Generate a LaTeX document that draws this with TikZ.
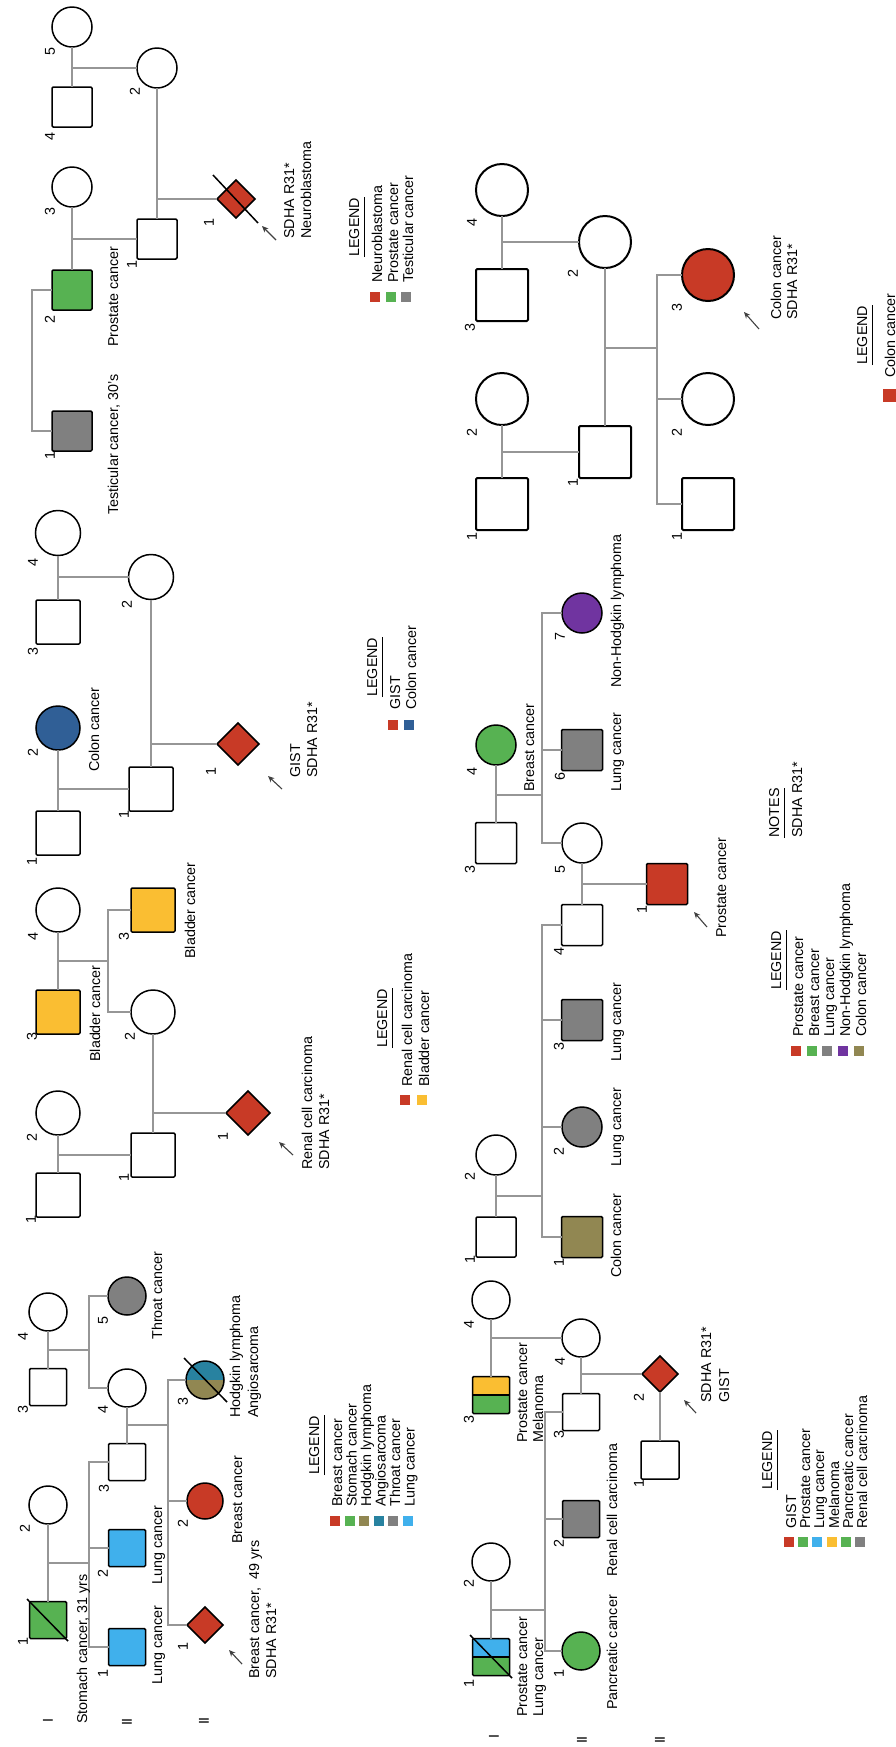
\documentclass[tikz,border=0pt]{standalone}
\usepackage{fontspec}
\setmainfont{Liberation Sans}
\usetikzlibrary{shapes.geometric,arrows.meta}
\definecolor{cred}{RGB}{200,58,38}
\definecolor{cgreen}{RGB}{87,178,82}
\definecolor{cgray}{RGB}{128,128,128}
\definecolor{cblue}{RGB}{64,176,236}
\definecolor{cyel}{RGB}{250,190,50}
\definecolor{colive}{RGB}{145,135,82}
\definecolor{cteal}{RGB}{40,130,160}
\definecolor{cdblue}{RGB}{48,95,150}
\definecolor{cpurp}{RGB}{112,52,160}
\definecolor{lncol}{RGB}{150,150,150}
\newcommand\pedfont{\fontsize{7.15}{8.6}\selectfont}
\begin{document}
\begin{tikzpicture}[x=0.5pt,y=-0.5pt,
  ln/.style={draw=lncol, line width=0.75pt},
  ind/.style={draw=black, line width=0.75pt, inner sep=0pt, outer sep=0pt},
  sq/.style={ind, rectangle, rounded corners=0.6pt, minimum size=#1},
  ci/.style={ind, circle, minimum size=#1},
  di/.style={ind, diamond, aspect=1, minimum size=#1},
  tx/.style={rotate=90, anchor=west, inner sep=0pt, text height=0.72em, text depth=0pt, font=\pedfont},
  nm/.style={rotate=90, inner sep=0pt, font=\pedfont},
  lg/.style={rectangle, inner sep=0pt, minimum size=5pt},
  ul/.style={draw=black, line width=0.7pt},
  pa/.style={draw=black!75, line width=0.55pt, -{Stealth[length=3.2pt,width=2.8pt]}},
  dc/.style={draw=black, line width=0.75pt},
]
\useasboundingbox (0,0) rectangle (895,1747);

% ================= Pedigree A (neuroblastoma) =================
\node[ci=20pt] (A5) at (72,27) {};
\node[sq=20pt] (A4) at (72,107) {};
\node[ci=20pt] (A2) at (157,68) {};
\node[ci=20pt] (A3) at (72,187) {};
\node[sq=20pt] (A1) at (157,239) {};
\node[sq=20pt, fill=cgreen] (AP) at (72,290) {};
\node[sq=20pt, fill=cgray] (AT) at (72,431) {};
\node[di=19pt, fill=cred] (AD) at (236,199) {};
\draw[ln] (A5) -- (A4);
\draw[ln] (A5 |- A2) -- (A2);
\draw[ln] (A2) -- (A1);
\draw[ln] (A2 |- AD) -- (AD);
\draw[ln] (A3) -- (AP);
\draw[ln] (A3 |- A1) -- (A1);
\coordinate (Asib) at (32,290);
\draw[ln] (AP) -- (Asib) |- (AT);
\coordinate (Ad1) at (213,175); \coordinate (Ad2) at (258,223);
\draw[dc] (Ad1) -- (Ad2);
\coordinate (Aat) at (276,240); \coordinate (Aah) at (262,226);
\draw[pa] (Aat) -- (Aah);
\node[nm] at (50,52) {5};
\node[nm] at (50,137) {4};
\node[nm] at (135,92) {2};
\node[nm] at (50,212) {3};
\node[nm] at (132,265) {1};
\node[nm] at (209,223) {1};
\node[nm] at (50,320) {2};
\node[nm] at (50,456) {1};
\node[tx] at (111,515) {Testicular cancer, 30's};
\node[tx] at (111,347) {Prostate cancer};
\node[tx] at (287,239) {SDHA R31*};
\node[tx] at (304,239) {Neuroblastoma};
\node[tx] (AL) at (352,257) {LEGEND};
\draw[ul] ([xshift=2.5pt]AL.south west) -- ([xshift=2.5pt]AL.south east);
\node[tx] at (375,283) {Neuroblastoma};
\node[tx] at (391,283) {Prostate cancer};
\node[tx] at (406,283) {Testicular cancer};
\node[lg, fill=cred] (Alg1) at (375,297) {};
\node[lg, fill=cgreen] (Alg2) at (391,297) {};
\node[lg, fill=cgray] (Alg3) at (406,297) {};

% ================= Pedigree B (colon) =================
\begin{scope}[ind/.append style={line width=1pt}]
\node[ci=26pt] (B4) at (502,190) {};
\node[sq=26pt] (B3) at (502,295) {};
\node[ci=26pt] (B2) at (605,242) {};
\node[ci=26pt] (BI2) at (502,399) {};
\node[sq=26pt] (BI1) at (502,504) {};
\node[sq=26pt] (B1) at (605,452) {};
\node[ci=26pt, fill=cred] (B3c) at (708,275) {};
\node[ci=26pt] (B2c) at (708,399) {};
\node[sq=26pt] (B1c) at (708,504) {};
\end{scope}
\draw[ln] (B4) -- (B3);
\draw[ln] (B4 |- B2) -- (B2);
\draw[ln] (B2) -- (B1);
\draw[ln] (BI2) -- (BI1);
\draw[ln] (BI2 |- B1) -- (B1);
\coordinate (Bs) at (657,348);
\draw[ln] (B2 |- Bs) -- (Bs);
\draw[ln] (B3c) -- (Bs |- B3c) -- (Bs |- B1c) -- (B1c);
\draw[ln] (Bs |- B2c) -- (B2c);
\coordinate (Bat) at (759,329); \coordinate (Bah) at (744,312);
\draw[pa] (Bat) -- (Bah);
\node[nm] at (472,223) {4};
\node[nm] at (470,328) {3};
\node[nm] at (573,274) {2};
\node[nm] at (472,433) {2};
\node[nm] at (472,537) {1};
\node[nm] at (573,483) {1};
\node[nm] at (677,308) {3};
\node[nm] at (677,433) {2};
\node[nm] at (677,537) {1};
\node[tx] at (774,320) {Colon cancer};
\node[tx] at (790,320) {SDHA R31*};
\node[tx] (BL) at (860,365) {LEGEND};
\draw[ul] ([xshift=2.5pt]BL.south west) -- ([xshift=2.5pt]BL.south east);
\node[tx] at (888,378) {Colon cancer};
\node[lg, fill=cred, minimum size=6.5pt] (Blg1) at (889,395) {};

% ================= Pedigree C (GIST / colon) =================
\node[ci=22.5pt] (C4) at (58,533) {};
\node[sq=22pt] (C3) at (58,622) {};
\node[ci=22.5pt] (C2) at (151,577) {};
\node[ci=22pt, fill=cdblue] (CI2) at (58,728) {};
\node[sq=22pt] (CI1) at (58,833) {};
\node[sq=22pt] (C1) at (151,789) {};
\node[di=21pt, fill=cred] (CD) at (238,744) {};
\draw[ln] (C4) -- (C3);
\draw[ln] (C4 |- C2) -- (C2);
\draw[ln] (C2) -- (C1);
\draw[ln] (C2 |- CD) -- (CD);
\draw[ln] (CI2) -- (CI1);
\draw[ln] (CI2 |- C1) -- (C1);
\coordinate (Cat) at (282,789); \coordinate (Cah) at (268,776);
\draw[pa] (Cat) -- (Cah);
\node[nm] at (33,563) {4};
\node[nm] at (127,605) {2};
\node[nm] at (33,652) {3};
\node[nm] at (33,753) {2};
\node[nm] at (32,862) {1};
\node[nm] at (124,815) {1};
\node[nm] at (211,772) {1};
\node[tx] at (92,772) {Colon cancer};
\node[tx] at (293,778) {GIST};
\node[tx] at (310,778) {SDHA R31*};
\node[tx] (CL) at (370,697) {LEGEND};
\draw[ul] ([xshift=2.5pt]CL.south west) -- ([xshift=2.5pt]CL.south east);
\node[tx] at (393,710) {GIST};
\node[tx] at (409,710) {Colon cancer};
\node[lg, fill=cred] (Clg1) at (393,725) {};
\node[lg, fill=cdblue] (Clg2) at (409,725) {};

% ================= Pedigree D (renal / bladder) =================
\node[ci=22pt] (D4) at (58,910) {};
\node[sq=22pt, fill=cyel] (D3) at (58,1012) {};
\node[sq=22pt, fill=cyel] (D3r) at (153,910) {};
\node[ci=22pt] (D2) at (153,1012) {};
\node[ci=22pt] (DI2) at (58,1113) {};
\node[sq=22pt] (DI1) at (58,1195) {};
\node[sq=22pt] (D1) at (153,1155) {};
\node[di=22pt, fill=cred] (DD) at (248,1113) {};
\draw[ln] (D4) -- (D3);
\coordinate (Ds) at (108,961);
\draw[ln] (D4 |- Ds) -- (Ds);
\draw[ln] (D3r) -- (Ds |- D3r) -- (Ds |- D2) -- (D2);
\draw[ln] (D2) -- (D1);
\draw[ln] (D2 |- DD) -- (DD);
\draw[ln] (DI2) -- (DI1);
\draw[ln] (DI2 |- D1) -- (D1);
\coordinate (Dat) at (293,1155); \coordinate (Dah) at (279,1142);
\draw[pa] (Dat) -- (Dah);
\node[nm] at (33,937) {4};
\node[nm] at (124,937) {3};
\node[nm] at (32,1037) {3};
\node[nm] at (130,1037) {2};
\node[nm] at (32,1138) {2};
\node[nm] at (223,1137) {1};
\node[nm] at (124,1178) {1};
\node[nm] at (31,1220) {1};
\node[tx] at (188,959) {Bladder cancer};
\node[tx] at (93,1062) {Bladder cancer};
\node[tx] at (305,1170) {Renal cell carcinoma};
\node[tx] at (322,1170) {SDHA R31*};
\node[tx] (DL) at (380,1048) {LEGEND};
\draw[ul] ([xshift=2.5pt]DL.south west) -- ([xshift=2.5pt]DL.south east);
\node[tx] at (405,1087) {Renal cell carcinoma};
\node[tx] at (422,1087) {Bladder cancer};
\node[lg, fill=cred] (Dlg1) at (405,1100) {};
\node[lg, fill=cyel] (Dlg2) at (422,1100) {};

% ================= Pedigree E (breast) =================
\node[ci=19pt] (E4) at (48,1312) {};
\node[sq=18.5pt] (E3) at (48,1387) {};
\node[ci=19pt, fill=cgray] (E5) at (127,1296) {};
\node[ci=19pt] (E4b) at (127,1388) {};
\node[sq=18.5pt] (E3b) at (127,1462) {};
\node[ci=19pt, draw=none] (E3c) at (205,1380) {};
\fill[cteal] (E3c.west) arc[start angle=180, end angle=0, radius=9.5pt] -- cycle;
\fill[colive] (E3c.west) arc[start angle=180, end angle=360, radius=9.5pt] -- cycle;
\draw[dc] (E3c.center) circle[radius=9.5pt];
\node[ci=18pt, fill=cred] (E2c) at (205,1501) {};
\node[di=18pt, fill=cred] (ED) at (205,1625) {};
\node[ci=19pt] (E2) at (48,1505) {};
\node[sq=18.5pt, fill=cgreen] (E1) at (48,1620) {};
\node[sq=18.5pt, fill=cblue] (E2b) at (127,1548) {};
\node[sq=18.5pt, fill=cblue] (E1b) at (127,1647) {};
\draw[ln] (E4) -- (E3);
\coordinate (Es1) at (89,1350);
\draw[ln] (E4 |- Es1) -- (Es1);
\draw[ln] (E5) -- (Es1 |- E5) -- (Es1 |- E4b) -- (E4b);
\draw[ln] (E4b) -- (E3b);
\coordinate (Es2) at (168,1425);
\draw[ln] (E4b |- Es2) -- (Es2);
\draw[ln] (E3c) -- (Es2 |- E3c) -- (Es2 |- ED) -- (ED);
\draw[ln] (Es2 |- E2c) -- (E2c);
\draw[ln] (E2) -- (E1);
\coordinate (Es3) at (89,1563);
\draw[ln] (E2 |- Es3) -- (Es3);
\draw[ln] (E3b) -- (Es3 |- E3b) -- (Es3 |- E1b) -- (E1b);
\draw[ln] (Es3 |- E2b) -- (E2b);
\coordinate (Ed1) at (27,1599); \coordinate (Ed2) at (68,1641);
\draw[dc] (Ed1) -- (Ed2);
\coordinate (Ed3) at (184,1358); \coordinate (Ed4) at (227,1402);
\draw[dc] (Ed3) -- (Ed4);
\coordinate (Eat) at (242,1664); \coordinate (Eah) at (229,1650);
\draw[pa] (Eat) -- (Eah);
\node[nm] at (23,1337) {4};
\node[nm] at (23,1410) {3};
\node[nm] at (103,1321) {5};
\node[nm] at (103,1410) {4};
\node[nm] at (183,1402) {3};
\node[nm] at (25,1529) {2};
\node[nm] at (23,1642) {1};
\node[nm] at (104,1489) {3};
\node[nm] at (103,1574) {2};
\node[nm] at (103,1674) {1};
\node[nm] at (183,1524) {2};
\node[nm] at (183,1647) {1};
\node[nm] at (48,1720) {I};
\node[nm] at (127,1722) {II};
\node[nm] at (204,1721) {II};
\node[tx] at (155,1340) {Throat cancer};
\node[tx] at (233,1418) {Hodgkin lymphoma};
\node[tx] at (251,1418) {Angiosarcoma};
\node[tx] at (235,1544) {Breast cancer};
\node[tx] at (252,1679) {Breast cancer,\ \ 49 yrs};
\node[tx] at (269,1679) {SDHA R31*};
\node[tx] at (80,1724) {Stomach cancer, 31 yrs};
\node[tx] at (155,1585) {Lung cancer};
\node[tx] at (155,1685) {Lung cancer};
\node[tx] (EL) at (312,1475) {LEGEND};
\draw[ul] ([xshift=2.5pt]EL.south west) -- ([xshift=2.5pt]EL.south east);
\node[tx] at (335,1507) {Breast cancer};
\node[tx] at (349.5,1507) {Stomach cancer};
\node[tx] at (364,1507) {Hodgkin lymphoma};
\node[tx] at (378.5,1507) {Angiosarcoma};
\node[tx] at (393,1507) {Throat cancer};
\node[tx] at (407.5,1507) {Lung cancer};
\node[lg, fill=cred] (Elg1) at (335,1521) {};
\node[lg, fill=cgreen] (Elg2) at (349.5,1521) {};
\node[lg, fill=colive] (Elg3) at (364,1521) {};
\node[lg, fill=cteal] (Elg4) at (378.5,1521) {};
\node[lg, fill=cgray] (Elg5) at (393,1521) {};
\node[lg, fill=cblue] (Elg6) at (407.5,1521) {};

% ================= Pedigree F (prostate / NHL) =================
\node[ci=20pt, fill=cgreen] (F4c) at (496,745) {};
\node[sq=20.5pt] (F3s) at (496,843) {};
\node[ci=20pt, fill=cpurp] (F7) at (582,613) {};
\node[sq=20.5pt, fill=cgray] (F6) at (582,750) {};
\node[ci=20pt] (F5) at (582,843) {};
\node[sq=20.5pt] (F4) at (582,925) {};
\node[sq=20.5pt, fill=cred] (F1r) at (667,884) {};
\node[sq=20.5pt, fill=cgray] (F3) at (582,1020) {};
\node[ci=20pt, fill=cgray] (F2) at (582,1127) {};
\node[ci=20pt] (FI2) at (496,1155) {};
\node[sq=20pt] (FI1) at (496,1237) {};
\node[sq=20.5pt, fill=colive] (F1) at (582,1237) {};
\draw[ln] (F4c) -- (F3s);
\coordinate (Fs1) at (542,795);
\draw[ln] (F4c |- Fs1) -- (Fs1);
\draw[ln] (F7) -- (Fs1 |- F7) -- (Fs1 |- F5) -- (F5);
\draw[ln] (Fs1 |- F6) -- (F6);
\draw[ln] (F5) -- (F4);
\draw[ln] (F5 |- F1r) -- (F1r);
\draw[ln] (FI2) -- (FI1);
\coordinate (Fs2) at (542,1196);
\draw[ln] (FI2 |- Fs2) -- (Fs2);
\draw[ln] (F4) -- (Fs2 |- F4) -- (Fs2 |- F1) -- (F1);
\draw[ln] (Fs2 |- F3) -- (F3);
\draw[ln] (Fs2 |- F2) -- (F2);
\coordinate (Fat) at (707,927); \coordinate (Fah) at (694,912);
\draw[pa] (Fat) -- (Fah);
\node[nm] at (560,637) {7};
\node[nm] at (472,772) {4};
\node[nm] at (560,777) {6};
\node[nm] at (470,870) {3};
\node[nm] at (560,870) {5};
\node[nm] at (642,910) {1};
\node[nm] at (559,952) {4};
\node[nm] at (559,1047) {3};
\node[nm] at (559,1152) {2};
\node[nm] at (470,1177) {2};
\node[nm] at (470,1260) {1};
\node[nm] at (559,1263) {1};
\node[tx] at (614,688) {Non-Hodgkin lymphoma};
\node[tx] at (527,792) {Breast cancer};
\node[tx] at (614,792) {Lung cancer};
\node[tx] at (719,938) {Prostate cancer};
\node[tx] at (614,1062) {Lung cancer};
\node[tx] at (614,1167) {Lung cancer};
\node[tx] at (614,1278) {Colon cancer};
\node[tx] (FN) at (772,838) {NOTES};
\draw[ul] ([xshift=2.5pt]FN.south west) -- ([xshift=2.5pt]FN.south east);
\node[tx] at (795,838) {SDHA R31*};
\node[tx] (FL) at (774,990) {LEGEND};
\draw[ul] ([xshift=2.5pt]FL.south west) -- ([xshift=2.5pt]FL.south east);
\node[tx] at (796,1037) {Prostate cancer};
\node[tx] at (812,1037) {Breast cancer};
\node[tx] at (827,1037) {Lung cancer};
\node[tx] at (843,1037) {Non-Hodgkin lymphoma};
\node[tx] at (859,1037) {Colon cancer};
\node[lg, fill=cred] (Flg1) at (796,1051) {};
\node[lg, fill=cgreen] (Flg2) at (812,1051) {};
\node[lg, fill=cgray] (Flg3) at (827,1051) {};
\node[lg, fill=cpurp] (Flg4) at (843,1051) {};
\node[lg, fill=colive] (Flg5) at (859,1051) {};

% ================= Pedigree G (GIST) =================
\node[ci=19pt] (G4) at (491,1300) {};
\node[sq=18.5pt, draw=none] (G3) at (491,1395) {};
\fill[cyel] (G3.north west) rectangle (G3.east);
\fill[cgreen] (G3.west) rectangle (G3.south east);
\draw[dc] (G3.west) -- (G3.east);
\draw[dc, rounded corners=0.6pt] (G3.north west) rectangle (G3.south east);
\node[ci=19pt] (G4b) at (581,1338) {};
\node[sq=18.5pt] (G3b) at (581,1412) {};
\node[di=18pt, fill=cred] (GD) at (660,1374) {};
\node[sq=19pt] (G1c) at (660,1460) {};
\node[ci=19pt] (G2) at (491,1562) {};
\node[sq=18.5pt, draw=none] (G1) at (491,1657) {};
\fill[cblue] (G1.north west) rectangle (G1.east);
\fill[cgreen] (G1.west) rectangle (G1.south east);
\draw[dc] (G1.west) -- (G1.east);
\draw[dc, rounded corners=0.6pt] (G1.north west) rectangle (G1.south east);
\node[sq=18.5pt, fill=cgray] (G2b) at (581,1519) {};
\node[ci=19pt, fill=cgreen] (G1b) at (581,1651) {};
\draw[ln] (G4) -- (G3);
\draw[ln] (G4 |- G4b) -- (G4b);
\draw[ln] (G4b) -- (G3b);
\draw[ln] (G4b |- GD) -- (GD);
\draw[ln] (GD) -- (G1c);
\draw[ln] (G2) -- (G1);
\coordinate (Gs) at (545,1610);
\draw[ln] (G2 |- Gs) -- (Gs);
\draw[ln] (G3b) -- (Gs |- G3b) -- (Gs |- G1b) -- (G1b);
\draw[ln] (Gs |- G2b) -- (G2b);
\coordinate (Gd1) at (470,1635); \coordinate (Gd2) at (512,1678);
\draw[dc] (Gd1) -- (Gd2);
\coordinate (Gat) at (696,1413); \coordinate (Gah) at (684,1400);
\draw[pa] (Gat) -- (Gah);
\node[nm] at (469,1325) {4};
\node[nm] at (469,1420) {3};
\node[nm] at (560,1362) {4};
\node[nm] at (559,1435) {3};
\node[nm] at (639,1398) {2};
\node[nm] at (639,1484) {1};
\node[nm] at (469,1584) {2};
\node[nm] at (469,1684) {1};
\node[nm] at (559,1544) {2};
\node[nm] at (559,1674) {1};
\node[nm] at (494,1736) {I};
\node[nm] at (582,1740) {II};
\node[nm] at (660,1740) {II};
\node[tx] at (520,1443) {Prostate cancer};
\node[tx] at (536,1443) {Melanoma};
\node[tx] at (704,1403) {SDHA R31*};
\node[tx] at (722,1403) {GIST};
\node[tx] at (610,1577) {Renal cell carcinoma};
\node[tx] at (520,1717) {Prostate cancer};
\node[tx] at (536,1717) {Lung cancer};
\node[tx] at (610,1710) {Pancreatic cancer};
\node[tx] (GL) at (765,1490) {LEGEND};
\draw[ul] ([xshift=2.5pt]GL.south west) -- ([xshift=2.5pt]GL.south east);
\node[tx] at (789,1529) {GIST};
\node[tx] at (803,1529) {Prostate cancer};
\node[tx] at (817,1529) {Lung cancer};
\node[tx] at (832,1529) {Melanoma};
\node[tx] at (846,1529) {Pancreatic cancer};
\node[tx] at (860,1529) {Renal cell carcinoma};
\node[lg, fill=cred] (Glg1) at (789,1542) {};
\node[lg, fill=cgreen] (Glg2) at (803,1542) {};
\node[lg, fill=cblue] (Glg3) at (817,1542) {};
\node[lg, fill=cyel] (Glg4) at (832,1542) {};
\node[lg, fill=cgreen] (Glg5) at (846,1542) {};
\node[lg, fill=cgray] (Glg6) at (860,1542) {};
\end{tikzpicture}
\end{document}
